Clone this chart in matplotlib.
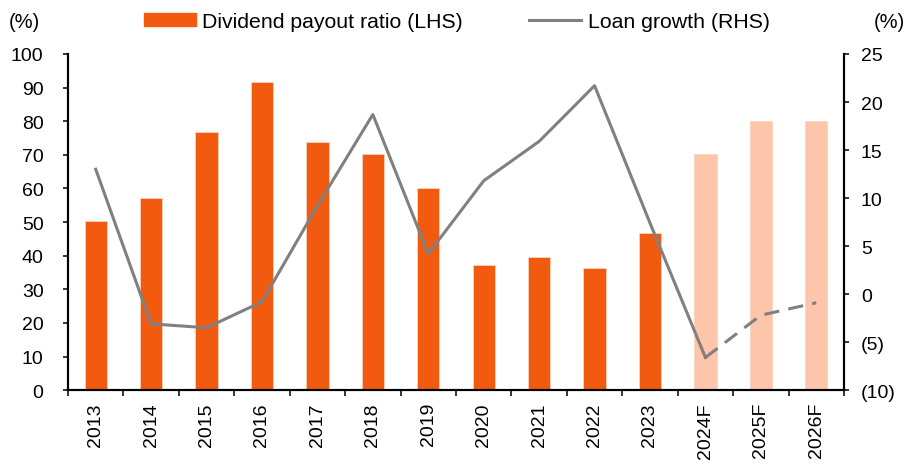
import numpy as np
import matplotlib
matplotlib.use("Agg")
import matplotlib.pyplot as plt
from matplotlib.lines import Line2D
from matplotlib.patches import Patch

years = ["2013", "2014", "2015", "2016", "2017", "2018", "2019",
         "2020", "2021", "2022", "2023", "2024F", "2025F", "2026F"]
payout = [50.4, 57.1, 76.7, 91.6, 73.8, 70.2, 60.1,
          37.3, 39.6, 36.3, 46.7, 70.2, 80.0, 80.0]
loan_actual = [13.0, -3.1, -3.5, -0.8, 9.2, 18.7, 4.2,
               11.8, 15.9, 21.7, 7.4, -6.6]
loan_forecast = [-6.6, -2.2, -0.9]
n_actual = 11

plt.rcParams["font.family"] = ["Liberation Sans", "DejaVu Sans"]
plt.rcParams["font.size"] = 14

orange = "#F15A0F"
light = "#FDC5AA"
grey = "#808080"

fig = plt.figure(figsize=(9.14, 4.64), dpi=100)
ax = fig.add_axes([0.0744, 0.157, 0.849, 0.7245])
ax2 = ax.twinx()

x = np.arange(len(years))
colors = [orange if i < n_actual else light for i in range(len(years))]
ax.bar(x, payout, width=0.4, color=colors, edgecolor="#FBD3BE", linewidth=0.6, zorder=2)

xa = x[:len(loan_actual)]
xf = x[len(loan_actual) - 1:]
ax2.plot(xa, loan_actual, color=grey, lw=2.2, zorder=3)
ax2.plot(xf, loan_forecast, color=grey, lw=2.2, dashes=(5, 3), zorder=3)

ax.set_xlim(-0.5, len(years) - 0.5)
ax.set_ylim(0, 100)
ax.set_yticks(range(0, 101, 10))
ax2.set_ylim(-10, 25)
ax2.set_yticks(range(-10, 26, 5))
ax2.set_yticklabels([f"({-v})" if v < 0 else str(v) for v in range(-10, 26, 5)])

ax.set_xticks(x)
ax.set_xticklabels(years, rotation=90)
ax.set_xticks(np.arange(-0.5, len(years), 1), minor=True)
ax.tick_params(axis="x", which="major", length=0, pad=8.6)
ax.tick_params(axis="x", which="minor", length=4.3, width=1.1, direction="out")
ax.tick_params(axis="y", length=3.6, width=1.1, direction="out", pad=14)
ax2.tick_params(axis="y", length=3.6, width=1.1, direction="out", pad=8.6)

for a in (ax, ax2):
    a.spines["top"].set_visible(False)
    for s in ("left", "right", "bottom"):
        a.spines[s].set_linewidth(1.5)

ty = 1 - 22.5 / 464
fig.text(9 / 914, ty, "(%)", ha="left", va="center", fontsize=14.5)
fig.text(905 / 914, ty, "(%)", ha="right", va="center", fontsize=14.5)

handles = [Patch(color=orange), Line2D([], [], color=grey, lw=2.2)]
fig.legend(handles, ["Dividend payout ratio (LHS)", "Loan growth (RHS)"],
           loc="center left", bbox_to_anchor=(144 / 914, ty), ncol=2, frameon=False,
           fontsize=15.3, borderpad=0, borderaxespad=0,
           handlelength=2.45, handleheight=0.5, handletextpad=0.3, columnspacing=3.1)

plt.savefig("out.png", dpi=100)
